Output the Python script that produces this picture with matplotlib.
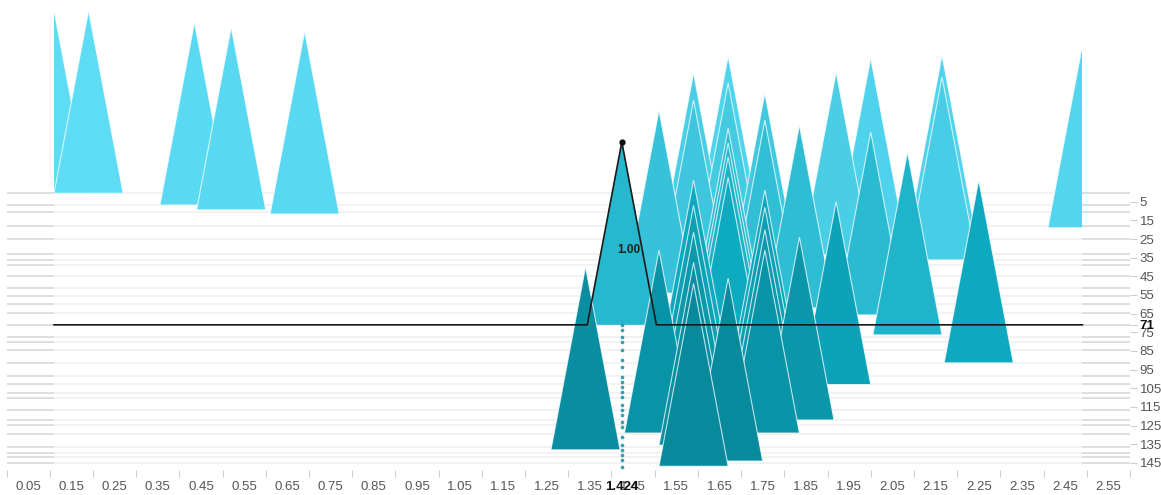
import matplotlib
matplotlib.use("Agg")
import matplotlib.pyplot as plt
from matplotlib.patches import Polygon, Rectangle
from matplotlib.colors import LinearSegmentedColormap
import numpy as np

# ---------------- data ----------------
spike_x = [0.11, 0.19, 0.435, 0.52, 0.69,
           1.34,
           1.51, 1.51,
           1.59, 1.59, 1.59, 1.59, 1.59, 1.59, 1.59,
           1.67, 1.67, 1.67, 1.67, 1.67, 1.67, 1.67,
           1.755, 1.755, 1.755, 1.755, 1.755, 1.755,
           1.835, 1.835,
           1.92, 1.92,
           2.0, 2.0,
           2.085,
           2.165, 2.165,
           2.25,
           2.49]
spike_rank = [0.5, 0.5, 6.8, 9.4, 11.6,
              138,
              54, 129,
              34, 48.6, 91.5, 105, 119.4, 135.5, 146.8,
              25, 39.4, 63.6, 71.5, 79, 90, 144,
              44.8, 59.3, 96.8, 106, 118, 129,
              62, 122,
              33.5, 103,
              26, 65.7,
              76.4,
              24.4, 36.2,
              91.4,
              19]

highlight_x = 1.424
highlight_rank = 71
highlight_label = "1.00"

dot_ranks = [71, 73.7, 77.5, 80, 84.4, 89.8, 93.5, 98.9, 101.6, 104.3, 107, 109.6,
             113.9, 116.7, 119.4, 123.1, 125.8, 131.2, 135.5, 138.2, 140.8, 143.5, 147.3]

grid_ranks = [0.3, 6.8, 10.5, 18, 25, 33, 36, 39, 45, 51, 55.5, 60, 64.6, 71,
              77.6, 80.3, 84.6, 91.6, 98.5, 102.8, 107.6, 110.3, 116.7, 122,
              124.7, 129.5, 136.5, 139.7, 142, 145]

x_tick_labels = ["0.05", "0.15", "0.25", "0.35", "0.45", "0.55", "0.65", "0.75",
                 "0.85", "0.95", "1.05", "1.15", "1.25", "1.35", "1.45", "1.55",
                 "1.65", "1.75", "1.85", "1.95", "2.05", "2.15", "2.25", "2.35",
                 "2.45", "2.55"]
x_minor_ticks = [0.0, 0.1, 0.2, 0.3, 0.4, 0.5, 0.6, 0.7, 0.8, 0.9, 1.0, 1.1, 1.2,
                 1.3, 1.4, 1.5, 1.6, 1.7, 1.8, 1.9, 2.0, 2.1, 2.2, 2.3, 2.4, 2.5, 2.6]
y_tick_labels = ["5", "15", "25", "35", "45", "55", "65", "75", "85", "95",
                 "105", "115", "125", "135", "145"]

spike_height = 98
half_width = 0.08
domain = (0.11, 2.49)

# ---------------- figure ----------------
FONT = ['Liberation Sans Narrow', 'Liberation Sans', 'DejaVu Sans']
fig = plt.figure(figsize=(11.61, 4.95), dpi=100)
ax = fig.add_axes([6.5 / 1161, 25 / 495, (1130 - 6.5) / 1161, 470 / 495])
ax.set_xlim(0, 2.6)
ax.set_ylim(148.8, -103.1)
for s in ax.spines.values():
    s.set_visible(False)

# background lines
for r in grid_ranks:
    ax.plot([0, domain[0]], [r, r], color='#dedede', lw=1.4, zorder=0, solid_capstyle='butt')
    ax.plot([domain[1], 2.6], [r, r], color='#dedede', lw=1.4, zorder=0, solid_capstyle='butt')
    ax.plot([domain[0], domain[1]], [r, r], color='#f2f2f2', lw=1.4, zorder=0, solid_capstyle='butt')

cmap = LinearSegmentedColormap.from_list(
    'sp', [(0.0, '#5ddcf4'), (0.15, '#52d4ed'), (0.3, '#40c8df'),
           (0.47, '#26b8ce'), (0.6, '#0eaac0'), (0.8, '#0a98ab'), (1.0, '#08879a')])

clip = Rectangle((domain[0], -200), domain[1] - domain[0], 400, transform=ax.transData)

order = np.argsort(spike_rank, kind='stable')
for i in order:
    x, r = spike_x[i], spike_rank[i]
    poly = Polygon([[x - half_width, r], [x, r - spike_height], [x + half_width, r]],
                   closed=True, facecolor=cmap(r / 150), edgecolor=(1, 1, 1, 0.75),
                   lw=0.8, zorder=2 + r / 1000)
    ax.add_patch(poly)
    poly.set_clip_path(clip)

# highlighted spike
hl = Polygon([[highlight_x - half_width, highlight_rank],
              [highlight_x, highlight_rank - spike_height],
              [highlight_x + half_width, highlight_rank]],
             closed=True, facecolor=cmap(highlight_rank / 150), edgecolor='none',
             zorder=2 + highlight_rank / 1000 + 0.0001)
ax.add_patch(hl)

# line with bump
lx = [domain[0], highlight_x - half_width, highlight_x, highlight_x + half_width, domain[1]]
ly = [highlight_rank, highlight_rank, highlight_rank - spike_height, highlight_rank, highlight_rank]
ax.plot(lx, ly, color='#1a1a1a', lw=1.2, zorder=5)
ax.plot([highlight_x], [highlight_rank - spike_height], 'o', color='#111', ms=3.5, zorder=6)
ax.text(highlight_x + 0.017, highlight_rank - spike_height * 0.41, highlight_label,
        ha='center', va='center', fontsize=8.5, fontweight='bold', color='#222',
        family=FONT, zorder=6)

# dots
ax.scatter([highlight_x] * len(dot_ranks), dot_ranks, s=7, color='#1a8ea2',
           alpha=0.85, zorder=5, linewidths=0)

# x axis
ax.set_xticks([float(t) for t in x_tick_labels] + [highlight_x])
ax.set_xticklabels(x_tick_labels + ["1.424"], family=FONT, fontsize=9.5, color='#555')
ax.tick_params(axis='x', which='major', length=0, pad=8)
ax.set_xticks(x_minor_ticks, minor=True)
ax.tick_params(axis='x', which='minor', length=5, color='#cfcfcf', width=0.8)
lab = ax.get_xticklabels()[-1]
lab.set_fontweight('bold')
lab.set_color('#111')

# y axis (right)
ax.yaxis.tick_right()
ax.set_yticks([int(t) for t in y_tick_labels] + [highlight_rank])
ax.set_yticklabels(y_tick_labels + [str(highlight_rank)], family=FONT, fontsize=9.5, color='#555')
ax.tick_params(axis='y', length=5, color='#cfcfcf', width=0.8, pad=2)
ylab = ax.get_yticklabels()[-1]
ylab.set_fontweight('bold')
ylab.set_color('#111')

fig.savefig('out.png', dpi=100)
